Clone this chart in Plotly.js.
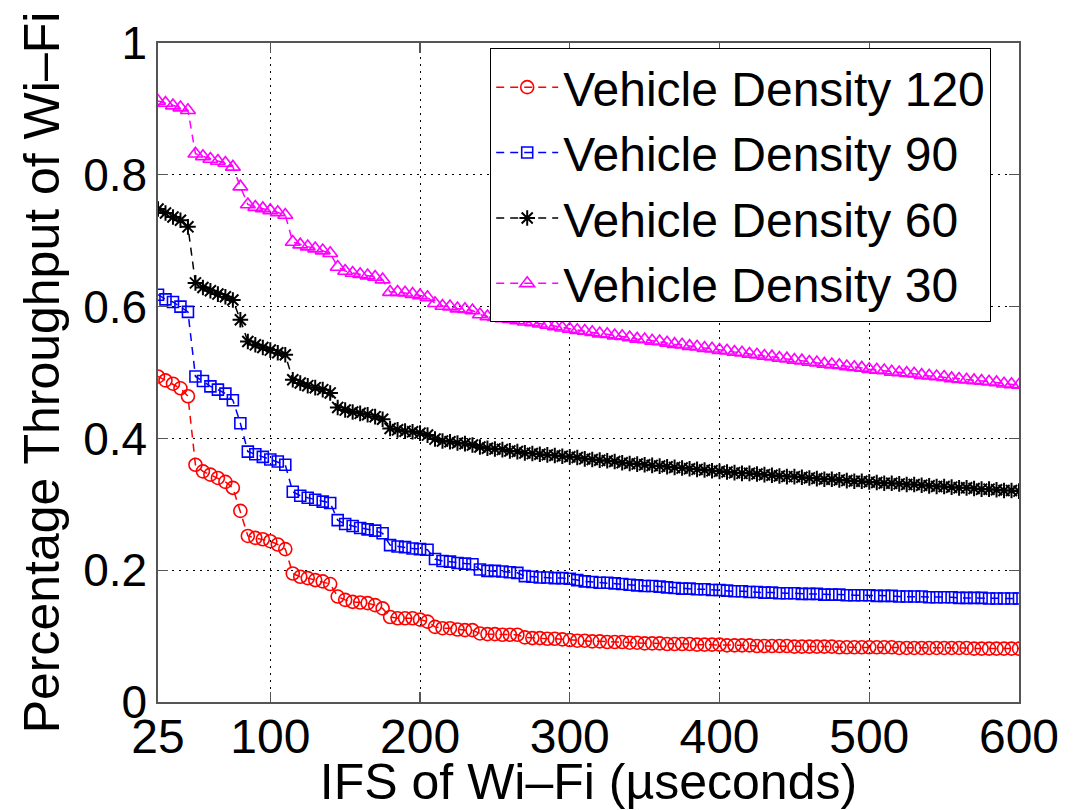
<!DOCTYPE html>
<html><head><meta charset="utf-8">
<script src="https://cdn.plot.ly/plotly-3.0.1.min.js"></script>
<style>html,body{margin:0;padding:0;background:#fff}#chart{width:1089px;height:810px}</style>
</head><body><div id="chart"></div>
<script>
const ifs = [25,30,35,40,45,50,55,60,65,70,75,80,
85,90,95,100,105,110,115,120,125,130,135,140,
145,150,155,160,165,170,175,180,185,190,195,200,
205,210,215,220,225,230,235,240,245,250,255,260,
265,270,275,280,285,290,295,300,305,310,315,320,
325,330,335,340,345,350,355,360,365,370,375,380,
385,390,395,400,405,410,415,420,425,430,435,440,
445,450,455,460,465,470,475,480,485,490,495,500,
505,510,515,520,525,530,535,540,545,550,555,560,
565,570,575,580,585,590,595,600];

const density120 = [.494,.488,.483,.476,.464,.360,.350,.345,.340,.334,.325,.290,
.252,.249,.247,.244,.239,.232,.195,.190,.188,.185,.183,.179,
.160,.155,.152,.151,.150,.147,.142,.129,.127,.127,.127,.125,
.122,.114,.112,.112,.110,.109,.109,.104,.103,.103,.102,.102,
.102,.098,.097,.097,.096,.096,.095,.094,.093,.093,.092,.092,
.091,.091,.091,.090,.090,.089,.089,.089,.088,.088,.088,.088,
.087,.087,.087,.087,.086,.086,.086,.086,.085,.085,.085,.085,
.085,.084,.084,.084,.084,.084,.084,.083,.083,.083,.083,.083,
.083,.083,.083,.082,.082,.082,.082,.082,.082,.082,.082,.082,
.082,.081,.081,.081,.081,.081,.081,.081];

const density90 = [.618,.611,.607,.600,.592,.494,.487,.479,.474,.468,.458,.423,
.380,.376,.372,.368,.365,.360,.319,.313,.310,.307,.304,.302,
.276,.270,.267,.264,.262,.260,.256,.238,.236,.235,.233,.232,
.231,.217,.214,.213,.211,.210,.209,.201,.199,.199,.198,.197,
.196,.191,.190,.189,.189,.188,.188,.187,.185,.183,.182,.181,
.181,.180,.179,.178,.177,.176,.176,.175,.174,.173,.172,.172,
.171,.171,.170,.170,.169,.168,.168,.167,.167,.166,.166,.165,
.165,.165,.164,.164,.164,.163,.163,.163,.162,.162,.162,.162,
.161,.161,.161,.160,.160,.160,.160,.159,.159,.159,.159,.158,
.158,.158,.158,.157,.157,.157,.157,.157];

const density60 = [.748,.742,.736,.731,.721,.636,.629,.624,.619,.615,.610,.580,
.547,.542,.538,.534,.530,.527,.489,.484,.480,.477,.474,.469,
.447,.443,.440,.438,.436,.433,.429,.415,.413,.411,.410,.408,
.405,.399,.396,.395,.393,.392,.390,.387,.385,.384,.383,.381,
.380,.378,.377,.376,.375,.374,.373,.372,.371,.369,.368,.367,
.366,.365,.363,.362,.361,.360,.359,.358,.357,.356,.355,.354,
.353,.352,.351,.350,.349,.348,.347,.347,.346,.345,.344,.343,
.342,.342,.341,.340,.339,.338,.338,.337,.336,.335,.335,.334,
.333,.332,.332,.331,.330,.330,.329,.328,.327,.327,.326,.325,
.325,.324,.323,.323,.322,.321,.321,.320];

const density30 = [.912,.909,.905,.902,.898,.832,.828,.824,.821,.818,.812,.782,
.755,.751,.749,.746,.743,.739,.698,.694,.691,.688,.685,.681,
.660,.654,.651,.649,.647,.645,.641,.622,.622,.621,.619,.617,
.614,.605,.601,.600,.597,.596,.594,.588,.585,.584,.582,.581,
.579,.577,.576,.574,.572,.570,.568,.566,.564,.563,.561,.559,
.558,.556,.555,.553,.551,.550,.548,.547,.545,.543,.542,.540,
.539,.537,.536,.534,.533,.531,.530,.528,.527,.525,.524,.522,
.521,.519,.518,.516,.515,.513,.512,.511,.509,.508,.507,.505,
.504,.503,.501,.500,.499,.498,.496,.495,.494,.493,.491,.490,
.489,.488,.487,.486,.485,.483,.482,.481];

const seriesNames = ['Vehicle Density 120','Vehicle Density 90','Vehicle Density 60','Vehicle Density 30'];
const seriesValues = [density120, density90, density60, density30];
const seriesColors = ['#ff0000','#0000ff','#000000','#ff00ff'];
const seriesSymbols = ['circle-open','square-open','asterisk-open','triangle-up-open'];
const seriesSizes = [13, 11, 13, 13];

const xTicks = [25,100,200,300,400,500,600];
const yTicks = [0,0.2,0.4,0.6,0.8,1];
const yTickText = ['0','0.2','0.4','0.6','0.8','1'];

const traces = seriesNames.map((name, i) => ({
  type: 'scatter', mode: 'lines+markers', name: name,
  x: ifs, y: seriesValues[i],
  line: {color: seriesColors[i], width: 1.5, dash: '8px,6px'},
  marker: {symbol: seriesSymbols[i], size: seriesSizes[i], color: seriesColors[i],
           line: {color: seriesColors[i], width: i === 2 ? 2 : 1.6}}
}));

const font = 'Liberation Sans, Arial, Helvetica, sans-serif';
const axisCommon = {
  ticks: 'inside', ticklen: 10, tickwidth: 1.2, tickcolor: '#555',
  showline: true, linecolor: '#555', linewidth: 1.6, mirror: 'ticks',
  showgrid: true, gridcolor: '#000', gridwidth: 1, griddash: '2px,5px',
  zeroline: false, automargin: false
};

const layout = {
  width: 1089, height: 810,
  paper_bgcolor: '#fff', plot_bgcolor: '#fff',
  margin: {l: 158, r: 70, t: 43, b: 108},
  font: {family: font, color: '#000'},
  showlegend: true,
  xaxis: Object.assign({}, axisCommon, {
    range: [25, 600], tickmode: 'array', tickvals: xTicks,
    tickfont: {size: 48, family: font}, ticklabelstandoff: -8,
    title: {text: 'IFS of Wi\u2013Fi (\u00b5seconds)', font: {size: 50, family: font}, standoff: 9}
  }),
  yaxis: Object.assign({}, axisCommon, {
    range: [0, 1], tickmode: 'array', tickvals: yTicks, ticktext: yTickText,
    tickfont: {size: 46, family: font},
    title: {text: 'Percentage Throughput of Wi\u2013Fi', font: {size: 50, family: font}, standoff: 8}
  }),
  legend: {
    x: 0.3856, y: 0.992, xanchor: 'left', yanchor: 'top',
    bgcolor: '#fff', bordercolor: '#000', borderwidth: 1.2,
    font: {size: 48, family: font}, itemwidth: 62, tracegroupgap: 0
  }
};

Plotly.newPlot('chart', traces, layout, {displayModeBar: false, staticPlot: true});
</script>
</body></html>
